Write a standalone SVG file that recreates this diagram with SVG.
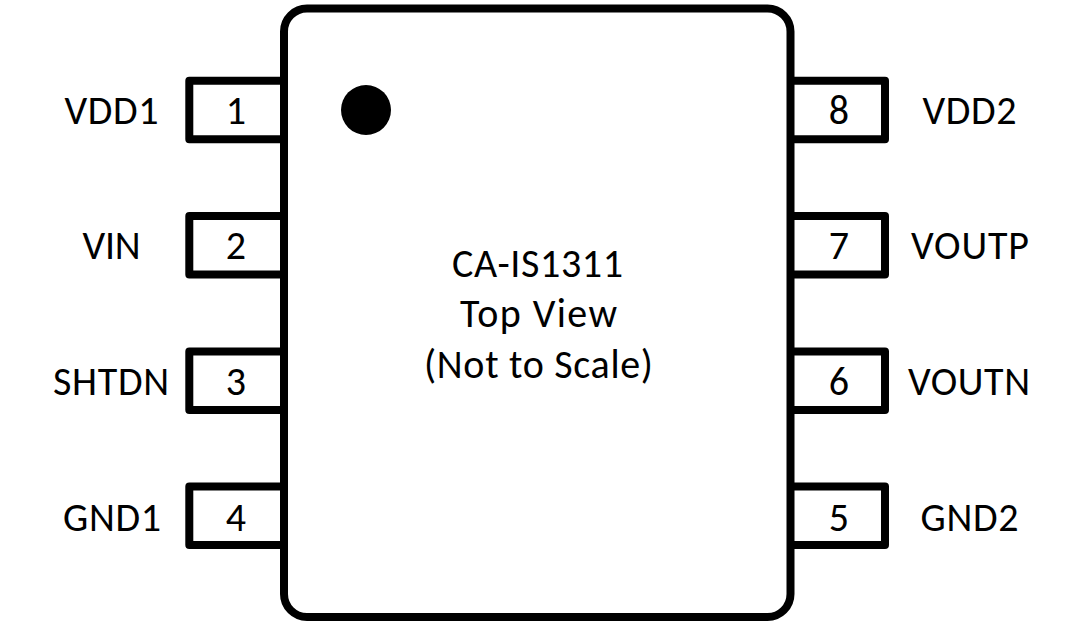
<svg xmlns="http://www.w3.org/2000/svg" width="1076" height="625" viewBox="0 0 1076 625">
<style>
.t{font-family:"Carlito","Liberation Sans",Arial,sans-serif;font-size:40px;fill:#000;text-anchor:middle}
.p{fill:#fff;stroke:#000;stroke-width:8;stroke-linejoin:round}
</style>
<rect width="1076" height="625" fill="#fff"/>
<g id="pin1"><rect class="p" x="189.3" y="80.7" width="100" height="58.6"/><text class="t" x="236" y="123.5">1</text><text class="t" x="111.5" y="123.5" textLength="94" lengthAdjust="spacing">VDD1</text></g>
<g id="pin2"><rect class="p" x="189.3" y="216" width="100" height="58.6"/><text class="t" x="236" y="259">2</text><text class="t" x="111.5" y="259" textLength="58" lengthAdjust="spacing">VIN</text></g>
<g id="pin3"><rect class="p" x="189.3" y="351.5" width="100" height="58.6"/><text class="t" x="236" y="395">3</text><text class="t" x="111" y="395" textLength="116" lengthAdjust="spacing">SHTDN</text></g>
<g id="pin4"><rect class="p" x="189.3" y="486.5" width="100" height="58.6"/><text class="t" x="236" y="531">4</text><text class="t" x="112" y="531" textLength="98" lengthAdjust="spacing">GND1</text></g>
<g id="pin8"><rect class="p" x="785" y="80.7" width="100" height="58.6"/><text class="t" x="839" y="123.5">8</text><text class="t" x="969.5" y="123.5" textLength="94" lengthAdjust="spacing">VDD2</text></g>
<g id="pin7"><rect class="p" x="785" y="216" width="100" height="58.6"/><text class="t" x="839" y="259">7</text><text class="t" x="970" y="259" textLength="118" lengthAdjust="spacing">VOUTP</text></g>
<g id="pin6"><rect class="p" x="785" y="351.5" width="100" height="58.6"/><text class="t" x="839" y="395">6</text><text class="t" x="969" y="395" textLength="122" lengthAdjust="spacing">VOUTN</text></g>
<g id="pin5"><rect class="p" x="785" y="486.5" width="100" height="58.6"/><text class="t" x="839" y="531">5</text><text class="t" x="969.5" y="531" textLength="98" lengthAdjust="spacing">GND2</text></g>
<g id="body"><rect class="p" x="284" y="8.5" width="506.5" height="608.5" rx="23"/><circle cx="366" cy="110" r="25" fill="#000"/>
<text class="t" x="537.5" y="277" textLength="171" lengthAdjust="spacing">CA-IS1311</text><text class="t" x="538.5" y="327" textLength="157" lengthAdjust="spacing">Top View</text><text class="t" x="538.5" y="378" textLength="229" lengthAdjust="spacing">(Not to Scale)</text></g>
</svg>
